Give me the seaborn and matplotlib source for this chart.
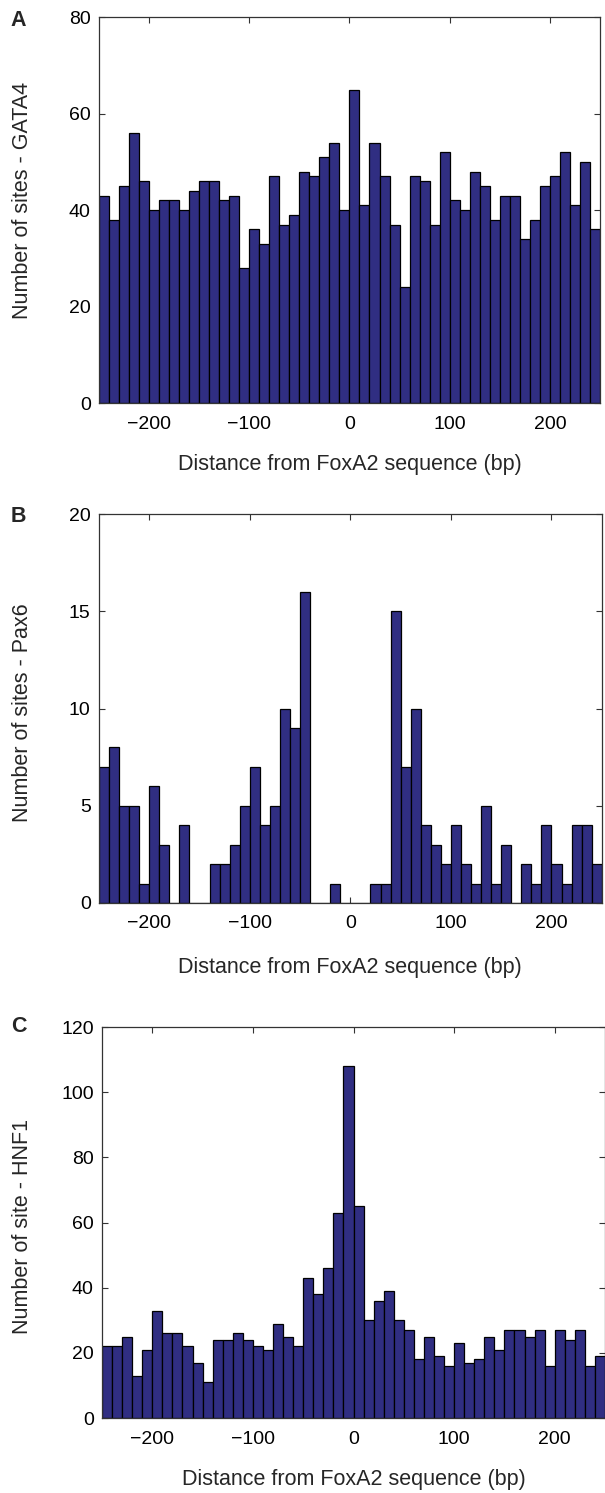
import numpy as np
import pandas as pd
import seaborn as sns
import matplotlib.pyplot as plt

# bin layout: 50 bins of 10 bp between -250 and 250
bin_centers = np.arange(-245, 250, 10)

gata4_counts = [43, 38, 45, 56, 46, 40, 42, 42, 40, 44, 46, 46, 42, 43, 28, 36, 33, 47, 37, 39,
                48, 47, 51, 54, 40, 65, 41, 54, 47, 37, 24, 47, 46, 37, 52, 42, 40, 48, 45, 38,
                43, 43, 34, 38, 45, 47, 52, 41, 50, 36]
pax6_counts = [7, 8, 5, 5, 1, 6, 3, 0, 4, 0, 0, 2, 2, 3, 5, 7, 4, 5, 10, 9,
               16, 0, 0, 1, 0, 0, 0, 1, 1, 15, 7, 10, 4, 3, 2, 4, 2, 1, 5, 1,
               3, 0, 2, 1, 4, 2, 1, 4, 4, 2]
hnf1_counts = [22, 22, 25, 13, 21, 33, 26, 26, 22, 17, 11, 24, 24, 26, 24, 22, 21, 29, 25, 22,
               43, 38, 46, 63, 108, 65, 30, 36, 39, 30, 27, 18, 25, 19, 16, 23, 17, 18, 25, 21,
               27, 27, 25, 27, 16, 27, 24, 27, 16, 19]

panels = [
    ('A', gata4_counts, 'Number of sites - GATA4', [0, 20, 40, 60, 80], 80),
    ('B', pax6_counts, 'Number of sites - Pax6', [0, 5, 10, 15, 20], 20),
    ('C', hnf1_counts, 'Number of site - HNF1', [0, 20, 40, 60, 80, 100, 120], 120),
]
# axes boxes in figure fractions (left, bottom, width, height)
boxes = [
    (0.1636, 0.730, 0.828, 0.2585),
    (0.1636, 0.3952, 0.831, 0.2605),
    (0.1686, 0.0502, 0.8314, 0.2619),
]
letter_y = [0.9933, 0.661, 0.3195]
xlabel_y = [-0.133, -0.14, -0.13]
ylabel_pos = [(-0.132, 0.526), (-0.132, 0.49), (-0.137, 0.49)]

sns.set_style('ticks')
plt.rcParams['font.family'] = ['Liberation Sans', 'DejaVu Sans']

fig = plt.figure(figsize=(6.05, 14.93), dpi=100)

for i, ((letter, counts, ylab, yticks, ymax), box) in enumerate(zip(panels, boxes)):
    ax = fig.add_axes(box)
    df = pd.DataFrame({'distance': bin_centers, 'count': counts})
    sns.histplot(data=df, x='distance', weights='count', binwidth=10, binrange=(-250, 250),
                 color='#302e82', alpha=1, edgecolor='black', linewidth=0.9, ax=ax)
    ax.set_xlim(-250, 250)
    ax.set_ylim(0, ymax)
    ax.set_xticks([-200, -100, 0, 100, 200])
    ax.set_yticks(yticks)
    ax.tick_params(direction='in', top=True, right=True, length=4, width=0.8,
                   labelsize=14, colors='#333333', labelcolor='black')
    ax.tick_params(axis='x', pad=9)
    ax.tick_params(axis='y', pad=6)
    for s in ax.spines.values():
        s.set_linewidth(0.9)
        s.set_color('#333333')
        s.set_visible(True)
    ax.set_xlabel('Distance from FoxA2 sequence (bp)', fontsize=15.5)
    ax.set_ylabel(ylab, fontsize=15.5)
    ax.xaxis.set_label_coords(0.5, xlabel_y[i])
    ax.yaxis.set_label_coords(*ylabel_pos[i])
    fig.text(0.018, letter_y[i], letter, fontsize=15.5, fontweight='bold',
             va='top', ha='left')

fig.savefig('out.png', dpi=100)
